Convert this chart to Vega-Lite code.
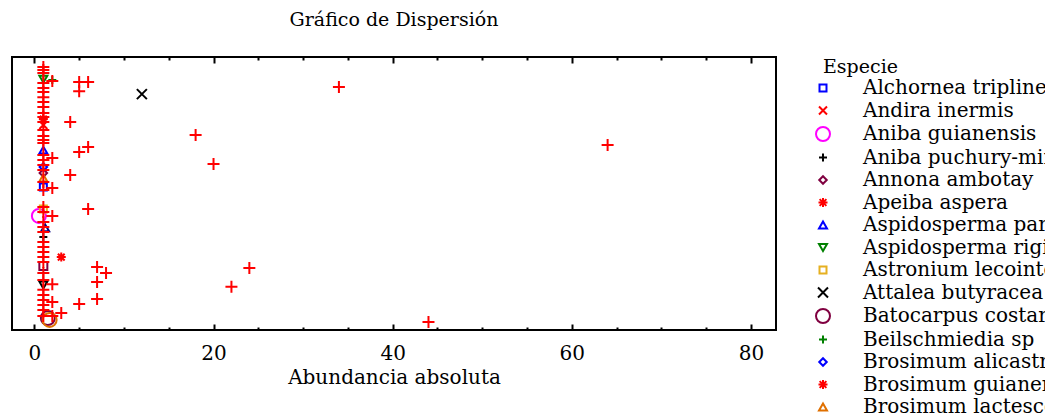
{
  "$schema": "https://vega.github.io/schema/vega-lite/v6.json",
  "width": 764,
  "height": 273,
  "autosize": "none",
  "padding": {"left": 12, "top": 57, "right": 269, "bottom": 87},
  "background": "white",
  "title": {"text": "Gráfico de Dispersión", "font": "DejaVu Serif", "fontSize": 19, "fontWeight": "normal", "color": "#000", "anchor": "middle", "offset": 26},
  "config": {
    "view": {"stroke": "#000", "strokeWidth": 2},
    "axis": {"labelFont": "DejaVu Serif", "titleFont": "DejaVu Serif", "labelColor": "#000", "titleColor": "#000", "tickColor": "#000", "grid": false, "domain": false}
  },
  "datasets": {
    "puntos": [
      {"Especie": "Alchornea triplinervia", "Abundancia": 1, "Posicion": 52.4},
      {"Especie": "Andira inermis", "Abundancia": 1, "Posicion": 75.1},
      {"Especie": "Aniba guianensis", "Abundancia": 0.5, "Posicion": 41.8},
      {"Especie": "Aniba puchury-minor", "Abundancia": 1, "Posicion": 34.1},
      {"Especie": "Annona ambotay", "Abundancia": 1, "Posicion": 57.5},
      {"Especie": "Apeiba aspera", "Abundancia": 1, "Posicion": 77.3},
      {"Especie": "Aspidosperma parvifolium", "Abundancia": 1, "Posicion": 65.9},
      {"Especie": "Aspidosperma rigidum", "Abundancia": 1, "Posicion": 91.9},
      {"Especie": "Astronium lecointei", "Abundancia": 1, "Posicion": 44.3},
      {"Especie": "Attalea butyracea", "Abundancia": 12, "Posicion": 86.4},
      {"Especie": "Batocarpus costaricensis", "Abundancia": 1.5, "Posicion": 4.4},
      {"Especie": "Beilschmiedia sp", "Abundancia": 2, "Posicion": 91.6},
      {"Especie": "Brosimum alicastrum", "Abundancia": 1, "Posicion": 59.7},
      {"Especie": "Brosimum guianense", "Abundancia": 3, "Posicion": 26.7},
      {"Especie": "Brosimum lactescens", "Abundancia": 1, "Posicion": 55.7},
      {"Especie": "Especie 16", "Abundancia": 1.2, "Posicion": 37.4},
      {"Especie": "Especie 17", "Abundancia": 1, "Posicion": 23.4},
      {"Especie": "Especie 18", "Abundancia": 1, "Posicion": 16.5},
      {"Especie": "Especie 19", "Abundancia": 1.7, "Posicion": 3.7},
      {"Especie": "Otras especies", "Abundancia": 1, "Posicion": 96.3},
      {"Especie": "Otras especies", "Abundancia": 1, "Posicion": 95.2},
      {"Especie": "Otras especies", "Abundancia": 1, "Posicion": 94.1},
      {"Especie": "Otras especies", "Abundancia": 1, "Posicion": 90.5},
      {"Especie": "Otras especies", "Abundancia": 1, "Posicion": 88.6},
      {"Especie": "Otras especies", "Abundancia": 1, "Posicion": 87.2},
      {"Especie": "Otras especies", "Abundancia": 1, "Posicion": 85.3},
      {"Especie": "Otras especies", "Abundancia": 1, "Posicion": 83.5},
      {"Especie": "Otras especies", "Abundancia": 1, "Posicion": 81.7},
      {"Especie": "Otras especies", "Abundancia": 1, "Posicion": 79.5},
      {"Especie": "Otras especies", "Abundancia": 1, "Posicion": 78.0},
      {"Especie": "Otras especies", "Abundancia": 1, "Posicion": 76.2},
      {"Especie": "Otras especies", "Abundancia": 1, "Posicion": 73.3},
      {"Especie": "Otras especies", "Abundancia": 1, "Posicion": 71.1},
      {"Especie": "Otras especies", "Abundancia": 1, "Posicion": 69.6},
      {"Especie": "Otras especies", "Abundancia": 1, "Posicion": 68.5},
      {"Especie": "Otras especies", "Abundancia": 1, "Posicion": 64.1},
      {"Especie": "Otras especies", "Abundancia": 1, "Posicion": 62.3},
      {"Especie": "Otras especies", "Abundancia": 1, "Posicion": 60.4},
      {"Especie": "Otras especies", "Abundancia": 1, "Posicion": 58.6},
      {"Especie": "Otras especies", "Abundancia": 1, "Posicion": 54.2},
      {"Especie": "Otras especies", "Abundancia": 1, "Posicion": 51.3},
      {"Especie": "Otras especies", "Abundancia": 1, "Posicion": 45.1},
      {"Especie": "Otras especies", "Abundancia": 1, "Posicion": 43.2},
      {"Especie": "Otras especies", "Abundancia": 1, "Posicion": 39.6},
      {"Especie": "Otras especies", "Abundancia": 1, "Posicion": 37.7},
      {"Especie": "Otras especies", "Abundancia": 1, "Posicion": 35.9},
      {"Especie": "Otras especies", "Abundancia": 1, "Posicion": 32.2},
      {"Especie": "Otras especies", "Abundancia": 1, "Posicion": 30.4},
      {"Especie": "Otras especies", "Abundancia": 1, "Posicion": 28.6},
      {"Especie": "Otras especies", "Abundancia": 1, "Posicion": 26.7},
      {"Especie": "Otras especies", "Abundancia": 1, "Posicion": 24.9},
      {"Especie": "Otras especies", "Abundancia": 1, "Posicion": 20.9},
      {"Especie": "Otras especies", "Abundancia": 1, "Posicion": 18.3},
      {"Especie": "Otras especies", "Abundancia": 1, "Posicion": 14.7},
      {"Especie": "Otras especies", "Abundancia": 1, "Posicion": 12.8},
      {"Especie": "Otras especies", "Abundancia": 1, "Posicion": 11.0},
      {"Especie": "Otras especies", "Abundancia": 1, "Posicion": 9.2},
      {"Especie": "Otras especies", "Abundancia": 1, "Posicion": 7.3},
      {"Especie": "Otras especies", "Abundancia": 1, "Posicion": 5.1},
      {"Especie": "Otras especies", "Abundancia": 2, "Posicion": 91.2},
      {"Especie": "Otras especies", "Abundancia": 5, "Posicion": 90.8},
      {"Especie": "Otras especies", "Abundancia": 6, "Posicion": 90.8},
      {"Especie": "Otras especies", "Abundancia": 5, "Posicion": 87.5},
      {"Especie": "Otras especies", "Abundancia": 4, "Posicion": 76.2},
      {"Especie": "Otras especies", "Abundancia": 2, "Posicion": 52.0},
      {"Especie": "Otras especies", "Abundancia": 6, "Posicion": 67.0},
      {"Especie": "Otras especies", "Abundancia": 5, "Posicion": 65.2},
      {"Especie": "Otras especies", "Abundancia": 2, "Posicion": 63.0},
      {"Especie": "Otras especies", "Abundancia": 4, "Posicion": 56.8},
      {"Especie": "Otras especies", "Abundancia": 6, "Posicion": 44.3},
      {"Especie": "Otras especies", "Abundancia": 2, "Posicion": 41.8},
      {"Especie": "Otras especies", "Abundancia": 7, "Posicion": 23.1},
      {"Especie": "Otras especies", "Abundancia": 8, "Posicion": 20.9},
      {"Especie": "Otras especies", "Abundancia": 7, "Posicion": 17.6},
      {"Especie": "Otras especies", "Abundancia": 2, "Posicion": 16.8},
      {"Especie": "Otras especies", "Abundancia": 7, "Posicion": 11.4},
      {"Especie": "Otras especies", "Abundancia": 5, "Posicion": 9.5},
      {"Especie": "Otras especies", "Abundancia": 2, "Posicion": 10.3},
      {"Especie": "Otras especies", "Abundancia": 3, "Posicion": 6.2},
      {"Especie": "Otras especies", "Abundancia": 2, "Posicion": 5.1},
      {"Especie": "Otras especies", "Abundancia": 34, "Posicion": 89.0},
      {"Especie": "Otras especies", "Abundancia": 18, "Posicion": 71.4},
      {"Especie": "Otras especies", "Abundancia": 20, "Posicion": 60.8},
      {"Especie": "Otras especies", "Abundancia": 64, "Posicion": 67.8},
      {"Especie": "Otras especies", "Abundancia": 24, "Posicion": 22.7},
      {"Especie": "Otras especies", "Abundancia": 22, "Posicion": 15.8},
      {"Especie": "Otras especies", "Abundancia": 44, "Posicion": 2.9}
    ]
  },
  "data": {"name": "puntos"},
  "resolve": {"axis": {"x": "independent"}},
  "layer": [
    {
      "mark": {"type": "point", "filled": false, "strokeWidth": 2, "opacity": 1},
      "encoding": {
        "x": {"field": "Abundancia", "type": "quantitative", "scale": {"domain": [-2.5, 82.8], "nice": false, "zero": false},
              "axis": {"orient": "bottom", "values": [0, 20, 40, 60, 80], "tickSize": -6, "tickWidth": 2, "labelPadding": 19, "labelFontSize": 20, "titleFontSize": 20, "titleFontWeight": "normal", "titlePadding": 4, "title": "Abundancia absoluta"}},
        "y": {"field": "Posicion", "type": "quantitative", "scale": {"domain": [0, 100], "nice": false, "zero": false}, "axis": null},
        "color": {"field": "Especie", "type": "nominal",
          "scale": {"domain": ["Alchornea triplinervia", "Andira inermis", "Aniba guianensis", "Aniba puchury-minor", "Annona ambotay", "Apeiba aspera", "Aspidosperma parvifolium", "Aspidosperma rigidum", "Astronium lecointei", "Attalea butyracea", "Batocarpus costaricensis", "Beilschmiedia sp", "Brosimum alicastrum", "Brosimum guianense", "Brosimum lactescens", "Especie 16", "Especie 17", "Especie 18", "Especie 19", "Otras especies"],
                    "range": ["#0000ff", "#ff0000", "#ff00ff", "#000000", "#800040", "#ff0000", "#0000ff", "#008000", "#e6b020", "#000000", "#800040", "#008000", "#0000ff", "#ff0000", "#e07000", "#000080", "#800040", "#000000", "#e07000", "#ff0000"]},
          "legend": {"title": "Especie", "orient": "none", "legendX": 811, "legendY": 1, "titleFont": "DejaVu Serif", "titleFontSize": 19, "titleFontWeight": "normal", "titleColor": "#000", "titlePadding": 1, "labelFont": "DejaVu Serif", "labelFontSize": 20, "labelColor": "#000", "labelLimit": 0, "labelOffset": 30, "symbolOffset": -10, "rowPadding": 2.5, "symbolStrokeWidth": 2, "symbolLimit": 0}},
        "shape": {"field": "Especie", "type": "nominal",
          "scale": {"domain": ["Alchornea triplinervia", "Andira inermis", "Aniba guianensis", "Aniba puchury-minor", "Annona ambotay", "Apeiba aspera", "Aspidosperma parvifolium", "Aspidosperma rigidum", "Astronium lecointei", "Attalea butyracea", "Batocarpus costaricensis", "Beilschmiedia sp", "Brosimum alicastrum", "Brosimum guianense", "Brosimum lactescens", "Especie 16", "Especie 17", "Especie 18", "Especie 19", "Otras especies"],
                    "range": ["square", "M-1,-1L1,1M-1,1L1,-1", "circle", "M-1,0L1,0M0,-1L0,1", "diamond", "M-1,0L1,0M0,-1L0,1M-0.75,-0.75L0.75,0.75M-0.75,0.75L0.75,-0.75", "triangle-up", "triangle-down", "square", "M-1,-1L1,1M-1,1L1,-1", "circle", "M-1,0L1,0M0,-1L0,1", "diamond", "M-1,0L1,0M0,-1L0,1M-0.75,-0.75L0.75,0.75M-0.75,0.75L0.75,-0.75", "triangle-up", "triangle-up", "square", "triangle-down", "circle", "M-1,0L1,0M0,-1L0,1"]}},
        "size": {"field": "Especie", "type": "nominal",
          "scale": {"type": "ordinal", "domain": ["Alchornea triplinervia", "Andira inermis", "Aniba guianensis", "Aniba puchury-minor", "Annona ambotay", "Apeiba aspera", "Aspidosperma parvifolium", "Aspidosperma rigidum", "Astronium lecointei", "Attalea butyracea", "Batocarpus costaricensis", "Beilschmiedia sp", "Brosimum alicastrum", "Brosimum guianense", "Brosimum lactescens", "Especie 16", "Especie 17", "Especie 18", "Especie 19", "Otras especies"],
                    "range": [49, 64, 196, 64, 56, 81, 64, 64, 49, 100, 196, 64, 56, 81, 64, 64, 64, 64, 196, 144]}}
      }
    },
    {
      "mark": {"type": "point", "opacity": 0},
      "encoding": {
        "x": {"field": "Abundancia", "type": "quantitative", "axis": {"orient": "bottom", "values": [5, 10, 15, 25, 30, 35, 45, 50, 55, 65, 70, 75], "tickSize": -3, "tickWidth": 2, "labels": false, "title": null}},
        "y": {"field": "Posicion", "type": "quantitative", "axis": null}
      }
    },
    {
      "mark": {"type": "point", "opacity": 0},
      "encoding": {
        "x": {"field": "Abundancia", "type": "quantitative", "axis": {"orient": "top", "values": [0, 20, 40, 60, 80], "tickSize": -6, "tickWidth": 2, "labels": false, "title": null}},
        "y": {"field": "Posicion", "type": "quantitative", "axis": null}
      }
    },
    {
      "mark": {"type": "point", "opacity": 0},
      "encoding": {
        "x": {"field": "Abundancia", "type": "quantitative", "axis": {"orient": "top", "values": [5, 10, 15, 25, 30, 35, 45, 50, 55, 65, 70, 75], "tickSize": -3, "tickWidth": 2, "labels": false, "title": null}},
        "y": {"field": "Posicion", "type": "quantitative", "axis": null}
      }
    }
  ]
}
